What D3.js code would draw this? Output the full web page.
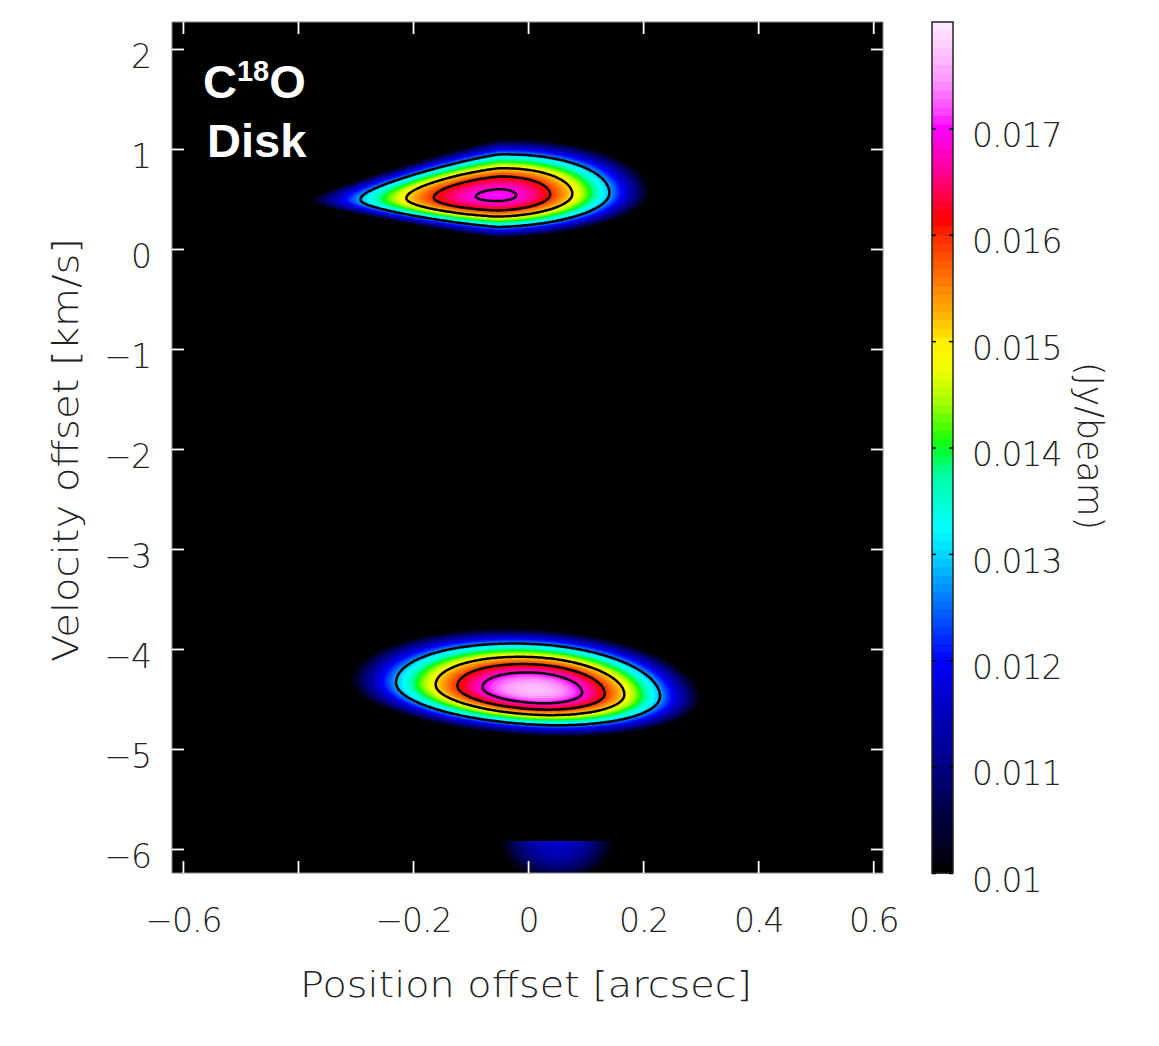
<!DOCTYPE html>
<html>
<head>
<meta charset="utf-8">
<script src="https://cdn.jsdelivr.net/npm/d3@7"></script>
<style>
  body { margin: 0; background: #fff; }
  svg { display: block; }
  .lbl { font-family: "DejaVu Sans", sans-serif; font-weight: 200; fill: #222; }
</style>
</head>
<body>
<script>
// axis ticks and labels
const xTickValues = [-0.6, -0.4, -0.2, 0, 0.2, 0.4, 0.6];
const xTickLabels = ["\u22120.6", "", "\u22120.2", "0", "0.2", "0.4", "0.6"];
const yTickValues = [2, 1, 0, -1, -2, -3, -4, -5, -6];
const yTickLabels = ["2", "1", "0", "\u22121", "\u22122", "\u22123", "\u22124", "\u22125", "\u22126"];
const cbTickValues = [0.010, 0.011, 0.012, 0.013, 0.014, 0.015, 0.016, 0.017];
const cbTickLabels = ["0.01", "0.011", "0.012", "0.013", "0.014", "0.015", "0.016", "0.017"];

// colour table (Jy/beam -> colour)
const cbStops = [0.0100, 0.0105, 0.0110, 0.01163, 0.0120, 0.01257, 0.0130, 0.01325, 0.01376, 0.0140,
                 0.01416, 0.01445, 0.01473, 0.0150, 0.0152, 0.01557, 0.0160, 0.01614, 0.01633, 0.0166,
                 0.0170, 0.01717, 0.01745, 0.01775, 0.0180];
const cbColors = ["#000000", "#00003c", "#000082", "#0000c8", "#0000ff", "#0078ff", "#00d7ff", "#00ffff", "#00ffa0", "#00ff1e",
                  "#3cff00", "#aaff00", "#f0ff00", "#fff000", "#ffbe00", "#ff7800", "#ff2800", "#ff0000", "#ff003c", "#ff0096",
                  "#ff00ff", "#ff46ff", "#ff96ff", "#ffc8ff", "#ffebff"];

// emission components (position arcsec, velocity km/s, Jy/beam)
const blobPos      = [-0.052, 0.012, 0.05];
const blobVel      = [0.53, -4.41, -5.92];
const blobPeak     = [0.01703, 0.0177, 0.0116];
const blobSigPosL  = [0.317, 0.30, 0.18];
const blobSigPosR  = [0.256, 0.27, 0.18];
const blobSigVelU  = [0.55, 0.57, 0.004];
const blobSigVelD  = [0.41, 0.43, 0.75];
const blobShear    = [0.15, -0.30, 0];
const blobTaperL   = [0.62, 0, 0];

const contourLevels = [0.0128, 0.0150, 0.0160, 0.0169];

const W = 1159, H = 1046;
const plot = {left: 172, top: 22, right: 883, bottom: 873};

const svg = d3.select("body").append("svg").attr("width", W).attr("height", H);

const x = d3.scaleLinear().domain([-0.619, 0.617]).range([plot.left, plot.right]);
const y = d3.scaleLinear().domain([2.27, -6.24]).range([plot.top, plot.bottom]);
const cy = d3.scaleLinear().domain([0.010, 0.018]).range([873, 22]);
const color = d3.scaleLinear().domain(cbStops).range(cbColors).clamp(true);

function field(p, v) {
  let s = 0;
  for (let k = 0; k < blobPos.length; k++) {
    const dx = p - blobPos[k];
    const u = dx / (dx < 0 ? blobSigPosL[k] : blobSigPosR[k]);
    const taper = dx < 0 ? Math.max(0.3, 1 + blobTaperL[k] * u) : 1;
    const dv = v - (blobVel[k] + blobShear[k] * dx);
    const w = dv / ((dv > 0 ? blobSigVelU[k] : blobSigVelD[k]) * taper);
    s += blobPeak[k] * Math.exp(-0.5 * (u * u + w * w));
  }
  return s;
}

// raster image of the PV diagram
const pw = plot.right - plot.left, ph = plot.bottom - plot.top;
const canvas = document.createElement("canvas");
canvas.width = pw; canvas.height = ph;
const ctx = canvas.getContext("2d");
const img = ctx.createImageData(pw, ph);
for (let j = 0; j < ph; j++) {
  const v = y.invert(plot.top + j + 0.5);
  for (let i = 0; i < pw; i++) {
    const c = d3.rgb(color(field(x.invert(plot.left + i + 0.5), v)));
    const o = (j * pw + i) * 4;
    img.data[o] = c.r; img.data[o + 1] = c.g; img.data[o + 2] = c.b; img.data[o + 3] = 255;
  }
}
ctx.putImageData(img, 0, 0);

svg.append("clipPath").attr("id", "clip").append("rect")
  .attr("x", plot.left).attr("y", plot.top).attr("width", pw).attr("height", ph);

const g = svg.append("g").attr("clip-path", "url(#clip)");
g.append("image").attr("x", plot.left).attr("y", plot.top)
  .attr("width", pw).attr("height", ph)
  .attr("href", canvas.toDataURL());

// contours
const step = 2;
const n = Math.ceil(pw / step), m = Math.ceil(ph / step);
const values = new Float64Array(n * m);
for (let j = 0; j < m; j++)
  for (let i = 0; i < n; i++)
    values[j * n + i] = field(x.invert(plot.left + (i + 0.5) * step), y.invert(plot.top + (j + 0.5) * step));
const contours = d3.contours().size([n, m]).thresholds(contourLevels)(values);
const path = d3.geoPath(d3.geoTransform({
  point: function(px, py) { this.stream.point(plot.left + px * step, plot.top + py * step); }
}));
g.selectAll(".ctr").data(contours).enter().append("path")
  .attr("d", path).attr("fill", "none").attr("stroke", "#000").attr("stroke-width", 2.5);

// frame
svg.append("rect").attr("x", plot.left).attr("y", plot.top).attr("width", pw).attr("height", ph)
  .attr("fill", "none").attr("stroke", "#888").attr("stroke-width", 1);

// axes with inward white ticks
const tick = 12;
const styleAxis = (sel) => {
  sel.select(".domain").remove();
  sel.selectAll(".tick line").attr("stroke", "#fff").attr("stroke-width", 1.8);
  sel.selectAll(".tick text").attr("class", "lbl").style("font-size", "33px").style("letter-spacing", "-1px");
};
svg.append("g").attr("transform", `translate(0,${plot.bottom})`)
  .call(d3.axisBottom(x).tickValues(xTickValues).tickFormat((d, i) => xTickLabels[i]).tickSizeInner(-tick).tickSizeOuter(0).tickPadding(36))
  .call(styleAxis);
svg.append("g").attr("transform", `translate(0,${plot.top})`)
  .call(d3.axisTop(x).tickValues(xTickValues).tickFormat("").tickSizeInner(-tick).tickSizeOuter(0))
  .call(styleAxis);
const yAx = svg.append("g").attr("transform", `translate(${plot.left},0)`)
  .call(d3.axisLeft(y).tickValues(yTickValues).tickFormat((d, i) => yTickLabels[i]).tickSizeInner(-tick).tickSizeOuter(0).tickPadding(21))
  .call(styleAxis);
yAx.selectAll("text").attr("dy", "0.55em");
svg.append("g").attr("transform", `translate(${plot.right},0)`)
  .call(d3.axisRight(y).tickValues(yTickValues).tickFormat("").tickSizeInner(-tick).tickSizeOuter(0))
  .call(styleAxis);
svg.selectAll("g text").attr("font-family", null).attr("font-size", null);

// colour bar
const cb = {x: 932, w: 21};
const nBands = 100;
const bands = d3.range(nBands).map(i => 0.010 + (i + 0.5) * 0.008 / nBands);
svg.append("g").selectAll("rect").data(bands).enter().append("rect")
  .attr("x", cb.x).attr("width", cb.w)
  .attr("y", d => cy(d + 0.004 / nBands) - 0.5)
  .attr("height", cy(0.010) - cy(0.010 + 0.008 / nBands) + 1)
  .attr("fill", d => color(d));
svg.append("rect").attr("x", cb.x).attr("y", cy(0.018)).attr("width", cb.w).attr("height", cy(0.010) - cy(0.018))
  .attr("fill", "none").attr("stroke", "#222").attr("stroke-width", 1.5);
const cbAx = svg.append("g").attr("transform", `translate(${cb.x + cb.w},0)`)
  .call(d3.axisRight(cy).tickValues(cbTickValues).tickFormat((d, i) => cbTickLabels[i]).tickSizeInner(-4).tickSizeOuter(0).tickPadding(19));
cbAx.select(".domain").remove();
cbAx.selectAll(".tick line").attr("stroke", "#000").attr("stroke-width", 1.5);
cbAx.selectAll(".tick text").attr("class", "lbl").attr("font-family", null).attr("font-size", null)
  .style("font-size", "33px").style("letter-spacing", "-1px").attr("dy", "0.55em");
svg.append("g").attr("transform", `translate(${cb.x},0)`)
  .call(d3.axisLeft(cy).tickValues(cbTickValues).tickFormat("").tickSizeInner(-4).tickSizeOuter(0))
  .call(s => { s.select(".domain").remove(); s.selectAll(".tick line").attr("stroke", "#000").attr("stroke-width", 1.5); });

// axis titles
svg.append("text").attr("class", "lbl").attr("x", 526).attr("y", 997)
  .attr("text-anchor", "middle").style("font-size", "35px")
  .attr("textLength", 452).attr("lengthAdjust", "spacingAndGlyphs")
  .text("Position offset [arcsec]");
svg.append("text").attr("class", "lbl").attr("transform", "translate(78,450) rotate(-90)")
  .attr("text-anchor", "middle").style("font-size", "35px")
  .attr("textLength", 424).attr("lengthAdjust", "spacingAndGlyphs")
  .text("Velocity offset [km/s]");
svg.append("text").attr("class", "lbl").attr("transform", "translate(1078,446) rotate(90)")
  .attr("text-anchor", "middle").style("font-size", "35px")
  .attr("textLength", 168).attr("lengthAdjust", "spacingAndGlyphs")
  .text("(Jy/beam)");

// panel label
const title = svg.append("text").attr("x", 203).attr("y", 98)
  .attr("font-family", "'Liberation Sans', Arial, sans-serif").attr("font-weight", "bold")
  .attr("font-size", 47).attr("fill", "#fff");
title.append("tspan").text("C");
title.append("tspan").attr("font-size", 29).attr("dy", -17).text("18");
title.append("tspan").attr("dy", 17).text("O");
svg.append("text").attr("x", 207).attr("y", 157)
  .attr("font-family", "'Liberation Sans', Arial, sans-serif").attr("font-weight", "bold")
  .attr("font-size", 47).attr("fill", "#fff").text("Disk");
</script>
</body>
</html>
